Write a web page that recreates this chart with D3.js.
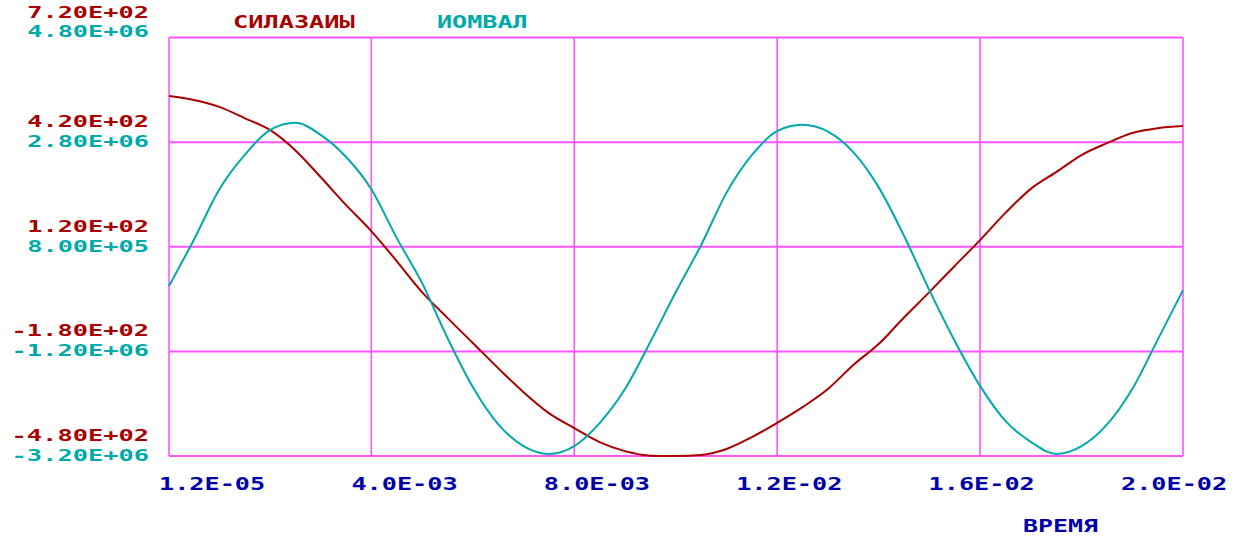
<!DOCTYPE html>
<html>
<head>
<meta charset="utf-8">
<script src="https://cdn.jsdelivr.net/npm/d3@7"></script>
<style>
  html, body { margin: 0; padding: 0; background: #ffffff; }
  svg { display: block; }
  text { font-family: "DejaVu Sans Mono", "Liberation Mono", monospace; font-weight: bold; }
</style>
</head>
<body>
<svg id="chart" width="1250" height="538"></svg>
<script>
// ---- data ----
const timeMs = [0.012, 0.5, 1.0, 1.5, 2.0, 2.5, 3.0, 3.5, 4.0, 4.5, 5.0, 5.5, 6.0, 6.5, 7.0, 7.5,
  8.0, 8.5, 9.0, 9.5, 10.0, 10.5, 11.0, 11.5, 12.0, 12.5, 13.0, 13.5, 14.0, 14.5, 15.0, 15.5,
  16.0, 16.5, 17.0, 17.5, 18.0, 18.5, 19.0, 19.5, 20.0];
const silaZamy = [552, 541, 521, 489, 455, 397, 320, 240, 165, 79, -10, -84, -156, -228, -297, -357,
  -400, -440, -466, -479, -480, -477, -460, -426, -385, -340, -288, -219, -159, -83, -10, 65,
  139, 217, 286, 334, 383, 417, 446, 460, 466];
const momValMillions = [0.05, 0.93, 1.89, 2.55, 3.03, 3.17, 2.94, 2.52, 1.90, 0.97, 0.11, -0.94, -1.88, -2.59, -3.01, -3.16,
  -3.01, -2.57, -1.92, -1.02, -0.07, 0.83, 1.83, 2.55, 3.01, 3.13, 3.00, 2.61, 1.94, 1.01, -0.03, -1.00,
  -1.86, -2.53, -2.93, -3.16, -3.01, -2.60, -1.92, -0.98, -0.03];

const seriesNames = ["СИЛАЗАИЫ", "ИОМВАЛ"];
const xTickValues = [0.000012, 0.004, 0.008, 0.012, 0.016, 0.02];
const xTickLabels = ["1.2E-05", "4.0E-03", "8.0E-03", "1.2E-02", "1.6E-02", "2.0E-02"];
const redTickValues = [720, 420, 120, -180, -480];
const redTickLabels = ["7.20E+02", "4.20E+02", "1.20E+02", "-1.80E+02", "-4.80E+02"];
const cyanTickValues = [4.8e6, 2.8e6, 0.8e6, -1.2e6, -3.2e6];
const cyanTickLabels = ["4.80E+06", "2.80E+06", "8.00E+05", "-1.20E+06", "-3.20E+06"];
const xTitle = "ВРЕМЯ";

// ---- style ----
const RED = "#aa0000", CYAN = "#00aaaa", BLUE = "#0000aa", GRID = "#ff55ff";
const CHAR_W = 15.6, FONT_SIZE = 16.5;

const svg = d3.select("#chart");
const pL = 169, pR = 1183, pT = 37.5, pB = 456;

const x = d3.scaleLinear().domain([0.000012, 0.02]).range([pL, pR]);
const yRed = d3.scaleLinear().domain([-480, 720]).range([pB, pT]);
const yCyan = d3.scaleLinear().domain([-3.2e6, 4.8e6]).range([pB, pT]);
const xLabelPos = d3.scalePoint().domain(xTickLabels).range([159, 1121]);

function pixText(g, str, px, py, color, size) {
  return g.append("text")
    .attr("x", px).attr("y", py)
    .attr("fill", color)
    .attr("font-size", size || FONT_SIZE)
    .attr("textLength", str.length * CHAR_W - 3)
    .attr("lengthAdjust", "spacingAndGlyphs")
    .text(str);
}

// grid
const grid = svg.append("g");
grid.selectAll("line.h").data(redTickValues).join("line")
  .attr("x1", pL).attr("x2", pR)
  .attr("y1", d => yRed(d)).attr("y2", d => yRed(d))
  .attr("stroke", GRID).attr("stroke-width", 2);
grid.selectAll("line.v").data(xTickValues).join("line")
  .attr("x1", d => x(d)).attr("x2", d => x(d))
  .attr("y1", pT).attr("y2", pB)
  .attr("stroke", GRID).attr("stroke-width", 1.6);

// curves
const data = timeMs.map((t, i) => ({ t: t / 1000, r: silaZamy[i], c: momValMillions[i] * 1e6 }));
const lineRed = d3.line().x(d => x(d.t)).y(d => yRed(d.r)).curve(d3.curveMonotoneX);
const lineCyan = d3.line().x(d => x(d.t)).y(d => yCyan(d.c)).curve(d3.curveMonotoneX);
svg.append("path").datum(data).attr("d", lineRed)
  .attr("fill", "none").attr("stroke", RED).attr("stroke-width", 2);
svg.append("path").datum(data).attr("d", lineCyan)
  .attr("fill", "none").attr("stroke", CYAN).attr("stroke-width", 2);

// y tick labels
const labels = svg.append("g");
redTickValues.forEach((v, i) => {
  const s = redTickLabels[i];
  const off = i === 0 ? -20 : -15;
  pixText(labels, s, 152 - s.length * CHAR_W, yRed(v) + off, RED);
});
cyanTickValues.forEach((v, i) => {
  const s = cyanTickLabels[i];
  const off = i === 0 ? -0.5 : 5;
  pixText(labels, s, 152 - s.length * CHAR_W, yCyan(v) + off, CYAN);
});

// x tick labels
xTickLabels.forEach(s => pixText(labels, s, xLabelPos(s), 490, BLUE, 18));

// legend
pixText(labels, seriesNames[0], 233, 28, RED, 18);
pixText(labels, seriesNames[1], 437, 28, CYAN, 18);

// x title
pixText(labels, xTitle, 1023, 532, BLUE, 18);
</script>
</body>
</html>
